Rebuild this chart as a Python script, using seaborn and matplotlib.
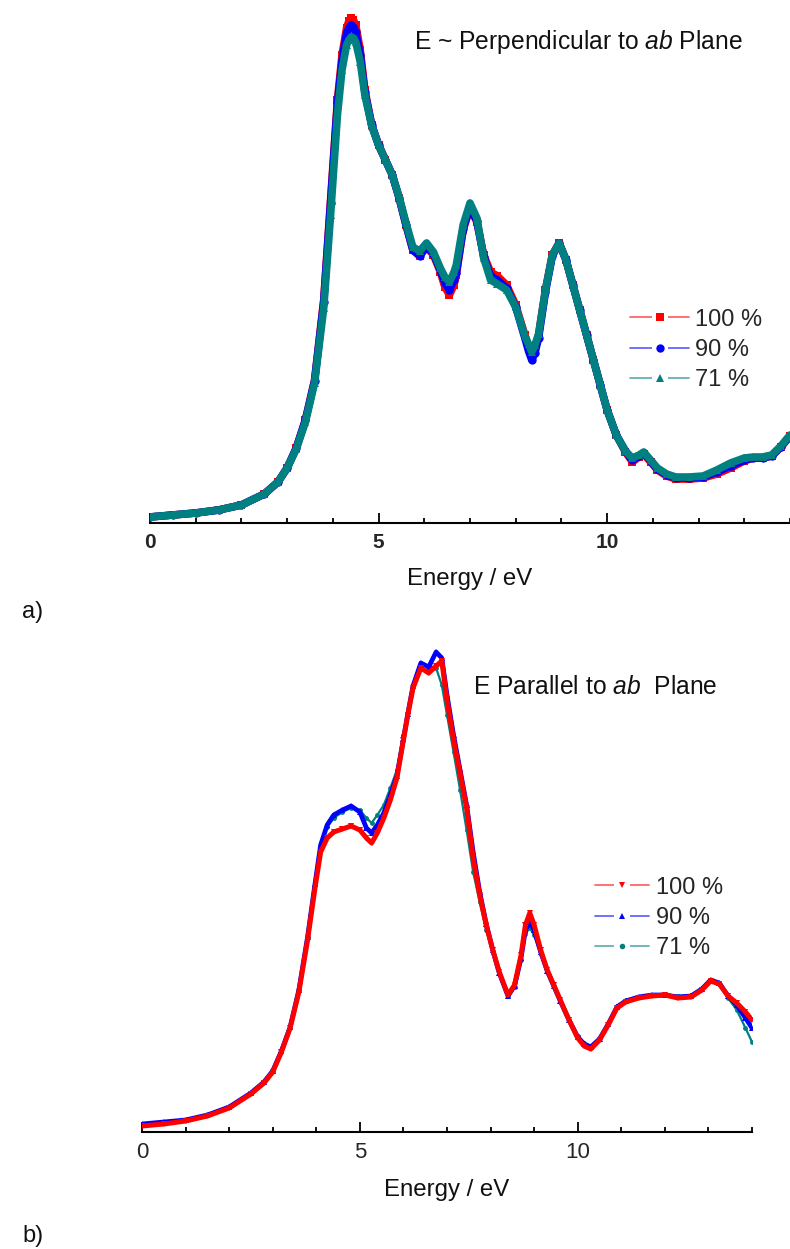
import numpy as np
import pandas as pd
import matplotlib
matplotlib.use('Agg')
import matplotlib.pyplot as plt
from matplotlib.lines import Line2D
from matplotlib.legend_handler import HandlerTuple
import seaborn as sns

sns.set_theme(style='white')
plt.rcParams['font.family'] = ['Liberation Sans', 'DejaVu Sans']
plt.rcParams['mathtext.fontset'] = 'custom'
plt.rcParams['mathtext.rm'] = 'Liberation Sans'
plt.rcParams['mathtext.it'] = 'Liberation Sans:italic'

labels = ['100 %', '90 %', '71 %']
colors = ['#ff0000', '#0000ff', '#008080']

# panel a: E ~ perpendicular to ab plane (intensity, arb. units)
energy_a = [0, 0.5, 1, 1.5, 2, 2.5, 2.8, 3.0, 3.2, 3.4, 3.6, 3.8, 3.95, 4.1, 4.2, 4.3, 4.35,
            4.4, 4.45, 4.5, 4.6, 4.7, 4.85, 5.0, 5.15, 5.3, 5.45, 5.6, 5.75, 5.9, 6.05, 6.2,
            6.35, 6.45, 6.55, 6.65, 6.7, 6.85, 7.0, 7.15, 7.3, 7.45, 7.6, 7.8, 8.0, 8.2, 8.28,
            8.35, 8.42, 8.5, 8.65, 8.8, 8.95, 9.1, 9.25, 9.4, 9.55, 9.7, 9.85, 10.0, 10.2,
            10.4, 10.55, 10.7, 10.8, 10.95, 11.1, 11.3, 11.5, 11.8, 12.1, 12.4, 12.7, 13.0,
            13.2, 13.4, 13.6, 13.8, 14.0]
perp_100 = [0.06, 0.08, 0.10, 0.13, 0.18, 0.29, 0.41, 0.55, 0.75, 1.03, 1.43, 2.23, 3.23, 4.23,
            4.68, 4.95, 5.02, 5.05, 5.03, 4.98, 4.73, 4.33, 3.98, 3.78, 3.63, 3.48, 3.25, 2.98,
            2.73, 2.67, 2.76, 2.68, 2.51, 2.36, 2.28, 2.38, 2.48, 2.93, 3.15, 3.01, 2.68, 2.51,
            2.47, 2.38, 2.18, 1.88, 1.77, 1.69, 1.75, 1.88, 2.33, 2.68, 2.80, 2.63, 2.38, 2.13,
            1.88, 1.63, 1.38, 1.13, 0.88, 0.71, 0.61, 0.66, 0.69, 0.61, 0.53, 0.47, 0.44, 0.44,
            0.45, 0.49, 0.55, 0.62, 0.65, 0.65, 0.67, 0.76, 0.87]
perp_90 = [0.06, 0.08, 0.10, 0.13, 0.18, 0.29, 0.41, 0.55, 0.75, 1.03, 1.42, 2.21, 3.20, 4.20,
           4.62, 4.90, 4.95, 4.98, 4.96, 4.91, 4.68, 4.31, 3.98, 3.78, 3.63, 3.48, 3.25, 2.98,
           2.73, 2.67, 2.77, 2.69, 2.53, 2.40, 2.33, 2.43, 2.50, 2.94, 3.16, 3.02, 2.66, 2.47,
           2.43, 2.35, 2.16, 1.85, 1.72, 1.63, 1.70, 1.85, 2.31, 2.67, 2.80, 2.63, 2.38, 2.13,
           1.88, 1.63, 1.38, 1.13, 0.88, 0.72, 0.63, 0.67, 0.70, 0.62, 0.54, 0.48, 0.45, 0.45,
           0.46, 0.51, 0.57, 0.63, 0.65, 0.65, 0.67, 0.76, 0.87]
perp_71 = [0.06, 0.08, 0.10, 0.13, 0.18, 0.29, 0.41, 0.55, 0.74, 1.01, 1.40, 2.15, 3.08, 4.08,
           4.53, 4.78, 4.83, 4.86, 4.85, 4.81, 4.61, 4.28, 3.97, 3.78, 3.63, 3.48, 3.26, 3.00,
           2.76, 2.72, 2.80, 2.71, 2.55, 2.46, 2.41, 2.51, 2.58, 2.98, 3.20, 3.05, 2.65, 2.43,
           2.39, 2.33, 2.16, 1.87, 1.79, 1.71, 1.78, 1.89, 2.33, 2.68, 2.80, 2.63, 2.38, 2.13,
           1.88, 1.63, 1.38, 1.13, 0.88, 0.72, 0.65, 0.68, 0.71, 0.63, 0.55, 0.49, 0.46, 0.46,
           0.47, 0.53, 0.60, 0.65, 0.66, 0.66, 0.68, 0.77, 0.88]

# panel b: E parallel to ab plane
energy_b = [0, 0.5, 1, 1.5, 2, 2.5, 2.8, 3.0, 3.2, 3.4, 3.6, 3.8, 3.97, 4.1, 4.25, 4.4, 4.6,
            4.8, 5.0, 5.15, 5.27, 5.4, 5.55, 5.7, 5.85, 6.0, 6.1, 6.22, 6.4, 6.58, 6.75, 6.88,
            7.0, 7.15, 7.3, 7.45, 7.6, 7.75, 7.9, 8.05, 8.2, 8.4, 8.55, 8.7, 8.8, 8.9, 9.0,
            9.15, 9.3, 9.45, 9.6, 9.8, 10.0, 10.15, 10.3, 10.5, 10.7, 10.9, 11.1, 11.4, 11.7,
            12.0, 12.3, 12.6, 12.85, 13.05, 13.25, 13.45, 13.65, 13.85, 14.0]
par_100 = [0.06, 0.08, 0.11, 0.16, 0.24, 0.38, 0.49, 0.60, 0.80, 1.04, 1.40, 1.92, 2.44, 2.80,
           2.94, 3.00, 3.03, 3.06, 3.02, 2.94, 2.89, 2.99, 3.14, 3.32, 3.54, 3.92, 4.17, 4.44,
           4.64, 4.59, 4.66, 4.71, 4.32, 3.92, 3.59, 3.24, 2.74, 2.37, 2.07, 1.82, 1.60, 1.37,
           1.47, 1.77, 2.07, 2.19, 2.07, 1.82, 1.62, 1.47, 1.32, 1.12, 0.94, 0.86, 0.83, 0.92,
           1.07, 1.24, 1.30, 1.34, 1.36, 1.37, 1.34, 1.35, 1.42, 1.51, 1.48, 1.36, 1.29, 1.20,
           1.12]
par_90 = [0.08, 0.10, 0.12, 0.17, 0.25, 0.39, 0.50, 0.61, 0.81, 1.05, 1.42, 1.95, 2.48, 2.87,
          3.07, 3.17, 3.22, 3.26, 3.20, 3.04, 2.99, 3.07, 3.19, 3.37, 3.56, 3.93, 4.18, 4.46,
          4.69, 4.65, 4.80, 4.74, 4.37, 3.97, 3.62, 3.27, 2.80, 2.40, 2.08, 1.82, 1.59, 1.36,
          1.46, 1.74, 2.02, 2.10, 2.02, 1.80, 1.61, 1.46, 1.31, 1.12, 0.95, 0.88, 0.85, 0.93,
          1.08, 1.25, 1.31, 1.35, 1.37, 1.37, 1.35, 1.36, 1.43, 1.52, 1.49, 1.36, 1.27, 1.14,
          1.04]
par_71 = [0.08, 0.10, 0.12, 0.17, 0.25, 0.39, 0.50, 0.61, 0.81, 1.05, 1.42, 1.95, 2.48, 2.86,
          3.05, 3.14, 3.20, 3.24, 3.22, 3.14, 3.09, 3.17, 3.27, 3.44, 3.62, 3.97, 4.20, 4.47,
          4.67, 4.66, 4.64, 4.47, 4.17, 3.80, 3.42, 3.02, 2.60, 2.30, 2.02, 1.80, 1.58, 1.36,
          1.45, 1.72, 1.98, 2.04, 1.97, 1.78, 1.60, 1.46, 1.31, 1.12, 0.96, 0.89, 0.86, 0.94,
          1.09, 1.26, 1.32, 1.35, 1.37, 1.38, 1.36, 1.37, 1.44, 1.52, 1.48, 1.34, 1.22, 1.04,
          0.90]

W, H = 790, 1249
fig = plt.figure(figsize=(W / 100, H / 100), dpi=100)
ax_a = fig.add_axes([150 / W, 1 - 523 / H, 640 / W, 523 / H])
ax_b = fig.add_axes([142 / W, 1 - 1132 / H, 610 / W, 492 / H])

df_a = pd.DataFrame({'E': energy_a * 3, 'I': perp_100 + perp_90 + perp_71,
                     'series': np.repeat(labels, len(energy_a))})
df_b = pd.DataFrame({'E': energy_b * 3, 'I': par_100 + par_90 + par_71,
                     'series': np.repeat(labels, len(energy_b))})

markers_a = ['s', 'o', '^']
for lab, col, mk in zip(labels, colors, markers_a):
    sns.lineplot(data=df_a[df_a.series == lab], x='E', y='I', ax=ax_a, color=col,
                 lw=5.5, marker=mk, markersize=6, markeredgewidth=0, legend=False)

markers_b = ['v', '^', 'o']
style_b = {'100 %': (3.6, 5), '90 %': (3.4, 5), '71 %': (1.6, 3.5)}
for lab, col, mk in list(zip(labels, colors, markers_b))[::-1]:
    lw, ms = style_b[lab]
    sns.lineplot(data=df_b[df_b.series == lab], x='E', y='I', ax=ax_b, color=col,
                 lw=lw, marker=mk, markersize=ms, markeredgewidth=0, legend=False)

for ax, ytop in [(ax_a, 5.23), (ax_b, 4.92)]:
    ax.set_xlim(0, 14)
    ax.set_ylim(0, ytop)
    ax.set_facecolor('none')
    for s in ['top', 'left', 'right']:
        ax.spines[s].set_visible(False)
    ax.spines['bottom'].set_linewidth(1.5)
    ax.spines['bottom'].set_color('black')
    ax.set_yticks([])
    ax.set_ylabel('')
    ax.set_xticks([0, 5, 10])
    ax.set_xticks(np.arange(0, 15, 1), minor=True)
    ax.tick_params(axis='x', which='major', direction='in', length=7, width=1.3,
                   color='black', bottom=True)
    ax.tick_params(axis='x', which='minor', direction='in', length=3.5, width=1.3,
                   color='black', bottom=True)
    ax.set_xlabel('Energy / eV', fontsize=17.3, color='#111111', labelpad=12)

ax_a.tick_params(axis='x', which='major', pad=7, labelsize=15)
for t in ax_a.get_xticklabels():
    t.set_fontweight('bold')
ax_b.tick_params(axis='x', which='major', pad=7, labelsize=16)
ax_b.spines['bottom'].set_bounds(0, 14)

fig.text(414 / W, 1 - 42 / H, r'E ~ Perpendicular to $\mathit{ab}$ Plane', fontsize=17.7,
         va='center', ha='left', color='#111111')
fig.text(473 / W, 1 - 687 / H, r'E Parallel to $\mathit{ab}$  Plane', fontsize=17.7,
         va='center', ha='left', color='#111111')
fig.text(22 / W, 1 - 612 / H, 'a)', fontsize=17, va='center', ha='left', color='#111111')
fig.text(22 / W, 1 - 1236 / H, 'b)', fontsize=17, va='center', ha='left', color='#111111')


def legend_handles(markers, sizes):
    hs = []
    for col, mk, ms in zip(colors, markers, sizes):
        line = Line2D([], [], color=col, lw=1.3, alpha=0.6)
        gap = Line2D([], [], color='white', marker='s', markersize=12, lw=0,
                     markeredgewidth=0)
        dot = Line2D([], [], color=col, marker=mk, markersize=ms, lw=0, markeredgewidth=0)
        hs.append((line, gap, dot))
    return hs


leg_a = ax_a.legend(legend_handles(markers_a, [6, 6, 6]), labels,
                    handler_map={tuple: HandlerTuple(ndivide=1)},
                    loc='center left', bbox_to_anchor=(630 / W, 1 - 350 / H),
                    bbox_transform=fig.transFigure, frameon=False, fontsize=17,
                    handlelength=2.5, handletextpad=0.25, labelspacing=0.35,
                    borderpad=0, borderaxespad=0)
leg_b = ax_b.legend(legend_handles(markers_b, [5, 5, 4]), labels,
                    handler_map={tuple: HandlerTuple(ndivide=1)},
                    loc='center left', bbox_to_anchor=(595 / W, 1 - 918 / H),
                    bbox_transform=fig.transFigure, frameon=False, fontsize=17,
                    handlelength=2.3, handletextpad=0.3, labelspacing=0.35,
                    borderpad=0, borderaxespad=0)

fig.savefig('out.png', dpi=100)
